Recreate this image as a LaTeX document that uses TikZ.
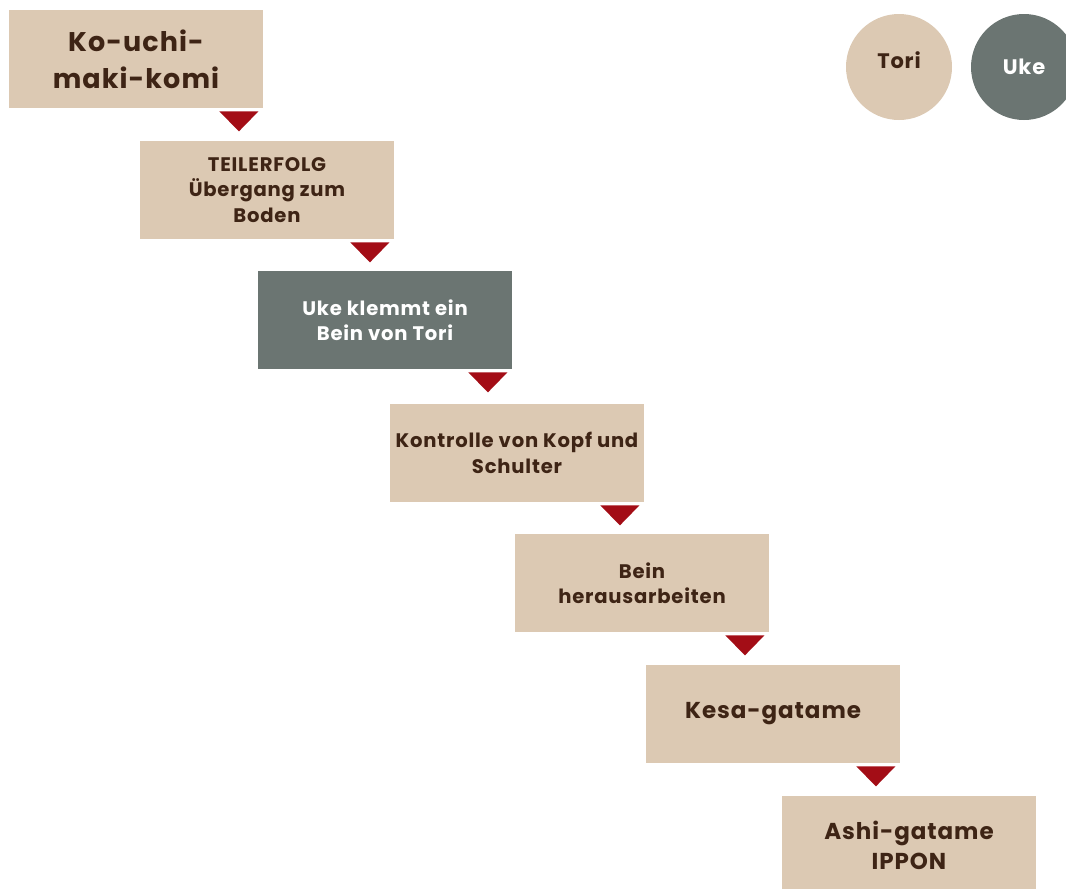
\documentclass[tikz,border=0pt]{standalone}
\usepackage{fontspec}
\setmainfont{Poppins}[LetterSpace=4]
\usetikzlibrary{calc}

\definecolor{beige}{HTML}{DCC9B3}
\definecolor{ukegray}{HTML}{6B7572}
\definecolor{darkbrown}{HTML}{3E2415}
\definecolor{arrowred}{HTML}{A30D16}

\tikzset{
  stepbox/.style={fill=beige, text=darkbrown, minimum width=127pt, minimum height=49pt,
    inner sep=0pt, align=center, font=\bfseries\fontsize{9.8}{12.75}\selectfont},
  ukebox/.style={stepbox, fill=ukegray, text=white},
  bigtext/.style={font=\bfseries\fontsize{13.5}{18.5}\selectfont},
  midtext/.style={font=\bfseries\fontsize{11.5}{15}\selectfont},
  rolecircle/.style={circle, minimum size=53pt, inner sep=0pt,
    font=\bfseries\fontsize{10.5}{12}\selectfont},
}

\begin{document}
\begin{tikzpicture}[x=0.5pt, y=-0.5pt]
  \useasboundingbox (0,0) rectangle (1066,889);
  \clip (0,0) rectangle (1066,889);

  % Legend
  \node[rolecircle, fill=beige] (tori) at (899,67) {};
  \node[text=darkbrown, font=\bfseries\fontsize{10.5}{12}\selectfont] at ($(tori)+(0,-7)$) {Tori};
  \node[rolecircle, fill=ukegray, text=white] (uke) at (1024,67) {Uke};

  % Steps
  \node[stepbox, bigtext] (ko) at (136,59) {Ko-uchi-\\maki-komi};
  \node[stepbox] (teil) at (267,190) {TEILERFOLG\\Übergang zum\\Boden};
  \node[ukebox] (klemm) at (385,320) {Uke klemmt ein\\Bein von Tori};
  \node[stepbox] (kontr) at (517,453) {Kontrolle von Kopf und\\Schulter};
  \node[stepbox] (bein) at (642,583) {Bein\\herausarbeiten};
  \node[stepbox, midtext] (kesa) at (773,714) {Kesa-gatame};
  \node[stepbox, midtext] (ashi) at (909,845) {Ashi-gatame\\IPPON};

  % Arrow marks below each step
  \foreach \b in {ko,teil,klemm,kontr,bein,kesa}
    \fill[arrowred] ($(\b.south east)+(-44,3)$) -- ++(39,0) -- ++(-19.5,20) -- cycle;
\end{tikzpicture}
\end{document}
